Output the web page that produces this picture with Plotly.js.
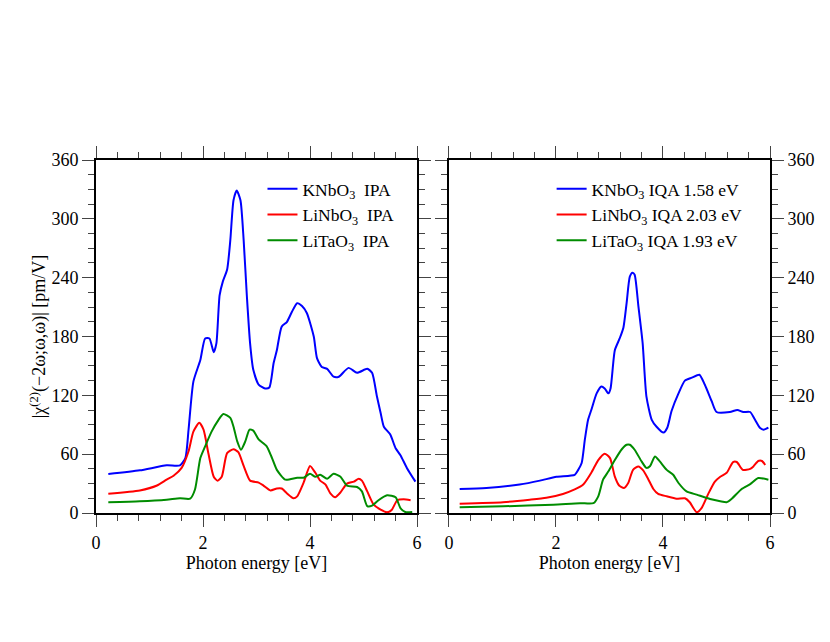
<!DOCTYPE html>
<html>
<head>
<meta charset="utf-8">
<script src="https://cdn.plot.ly/plotly-3.0.1.min.js"></script>
<style>
  body { margin: 0; background: #fff; }
  #chart { width: 830px; height: 642px; }
</style>
</head>
<body>
<div id="chart"></div>
<script>
// left panel: independent particle approximation (IPA)
const kn_ipa_x = [0.23, 0.82, 1.32, 1.57, 1.67, 1.73, 1.82, 1.95, 2.04, 2.12, 2.20, 2.25, 2.31, 2.37, 2.45, 2.51, 2.57, 2.63, 2.70, 2.76, 2.82, 2.88, 2.94, 3.04, 3.16, 3.24, 3.32, 3.38, 3.47, 3.57, 3.66, 3.76, 3.85, 3.94, 4.07, 4.13, 4.22, 4.32, 4.44, 4.54, 4.72, 4.88, 5.07, 5.16, 5.25, 5.32, 5.38, 5.50, 5.60, 5.69, 5.81, 5.97];
const kn_ipa_y = [39.7, 43.5, 48.6, 48.6, 56, 85, 134, 156, 178, 178, 164, 173, 222, 236, 248, 278, 319, 329, 319, 278, 221, 173, 146, 131, 127, 128, 153, 166, 190, 195, 205, 214, 211, 204, 180, 158, 149, 147, 139, 139, 148, 143, 147, 143, 119, 102, 88, 80, 66, 59, 46, 32];

const ln_ipa_x = [0.23, 0.82, 1.14, 1.32, 1.45, 1.60, 1.73, 1.82, 1.93, 2.01, 2.10, 2.20, 2.27, 2.35, 2.45, 2.57, 2.66, 2.76, 2.88, 3.04, 3.13, 3.26, 3.38, 3.47, 3.57, 3.69, 3.76, 3.88, 4.00, 4.10, 4.19, 4.29, 4.38, 4.47, 4.57, 4.69, 4.82, 4.91, 4.97, 5.07, 5.19, 5.32, 5.44, 5.53, 5.63, 5.75, 5.88];
const ln_ipa_y = [19.7, 23, 28, 34, 38, 46, 63, 83, 92, 85, 61, 37, 33, 37, 61, 65, 62, 48, 33, 31, 28, 23, 25, 25, 20, 15, 17, 31, 48, 41, 33, 29, 20, 16, 21, 30, 32, 35, 33, 22, 8.5, 3.4, 0.7, 3.4, 13, 14, 13];

const lt_ipa_x = [0.23, 0.82, 1.32, 1.57, 1.76, 1.85, 1.95, 2.04, 2.16, 2.29, 2.38, 2.51, 2.57, 2.64, 2.71, 2.79, 2.87, 2.94, 3.04, 3.19, 3.29, 3.38, 3.54, 3.76, 3.88, 4.00, 4.10, 4.19, 4.32, 4.44, 4.57, 4.69, 4.88, 4.97, 5.07, 5.16, 5.28, 5.44, 5.60, 5.69, 5.78, 5.91];
const lt_ipa_y = [11, 12, 13.6, 15, 14.6, 24, 56, 68, 83, 95, 101, 97, 88, 73, 64.5, 73, 85, 84, 75, 68, 56, 44, 34, 36, 36, 40, 37, 39, 35, 40, 37, 28, 26.5, 22, 7, 7.5, 13, 18, 16, 5, 1, 1];

// right panel: including quasiparticle / scissors shift (IQA)
const kn_iqa_x = [0.20, 0.70, 1.32, 1.70, 2.01, 2.35, 2.41, 2.48, 2.54, 2.60, 2.66, 2.76, 2.85, 2.91, 2.98, 3.02, 3.10, 3.19, 3.26, 3.32, 3.38, 3.43, 3.47, 3.54, 3.62, 3.69, 3.79, 3.88, 4.01, 4.08, 4.16, 4.29, 4.41, 4.54, 4.68, 4.78, 4.91, 5.00, 5.25, 5.39, 5.50, 5.63, 5.72, 5.81, 5.88, 5.97];
const kn_iqa_y = [24.5, 25.5, 29, 33, 37, 39, 43.5, 51, 75, 95, 105, 122, 129, 127, 122, 127, 166, 178, 189, 214, 241, 245, 243, 211, 173, 119, 95, 88, 82, 87, 104, 122, 135, 138, 141, 131, 114, 103, 103, 105, 103, 103, 95, 87, 85, 87];

const ln_iqa_x = [0.20, 1.01, 1.51, 1.82, 2.13, 2.35, 2.51, 2.66, 2.79, 2.91, 3.01, 3.10, 3.18, 3.27, 3.35, 3.44, 3.54, 3.63, 3.72, 3.82, 3.91, 4.07, 4.25, 4.41, 4.50, 4.63, 4.72, 4.85, 4.97, 5.07, 5.19, 5.31, 5.38, 5.49, 5.63, 5.69, 5.78, 5.85, 5.91];
const ln_iqa_y = [9.5, 11, 13.6, 15.6, 19.4, 24, 29, 41, 54, 60.5, 56, 37, 28, 25.5, 30.6, 44, 47.5, 43.5, 35, 24.5, 19.4, 17, 14.6, 15, 11, 0.7, 5, 20, 32, 37, 41, 52, 52, 44, 45, 47.5, 53, 53, 49];

const lt_iqa_x = [0.20, 1.01, 1.95, 2.45, 2.70, 2.79, 2.88, 2.98, 3.10, 3.23, 3.32, 3.38, 3.47, 3.60, 3.69, 3.76, 3.85, 3.94, 4.07, 4.19, 4.29, 4.44, 4.63, 4.88, 5.07, 5.19, 5.28, 5.47, 5.63, 5.78, 5.97];
const lt_iqa_y = [5.8, 6.8, 8.5, 10, 10, 17, 34, 42.5, 54, 65, 69.6, 69.6, 64.5, 52.6, 46, 48, 57.7, 52.6, 44, 39, 30.6, 22, 18.7, 14.3, 12, 11, 14.3, 24.5, 29.5, 35.7, 34];

const names_left = ["KNbO<sub>3</sub>\u00a0\u00a0IPA", "LiNbO<sub>3</sub>\u00a0\u00a0IPA", "LiTaO<sub>3</sub>\u00a0\u00a0IPA"];
const names_right = ["KNbO<sub>3</sub> IQA 1.58 eV", "LiNbO<sub>3</sub> IQA 2.03 eV", "LiTaO<sub>3</sub> IQA 1.93 eV"];
const colors = ["#0000ff", "#ff0000", "#008c00"];

const FONT = "Liberation Serif, Times New Roman, serif";

function line(x, y, name, color, right) {
    return {
        x: x, y: y, name: name, type: 'scatter', mode: 'lines',
        line: { color: color, width: 2, shape: 'spline', smoothing: 0.6 },
        xaxis: right ? 'x2' : 'x',
        yaxis: right ? 'y2' : 'y',
        legend: right ? 'legend2' : 'legend',
        hoverinfo: 'x+y'
    }
}

const data = [
    line(kn_ipa_x, kn_ipa_y, names_left[0], colors[0], false),
    line(ln_ipa_x, ln_ipa_y, names_left[1], colors[1], false),
    line(lt_ipa_x, lt_ipa_y, names_left[2], colors[2], false),
    line(kn_iqa_x, kn_iqa_y, names_right[0], colors[0], true),
    line(ln_iqa_x, ln_iqa_y, names_right[1], colors[1], true),
    line(lt_iqa_x, lt_iqa_y, names_right[2], colors[2], true)
];

function x_axis(domain, anchor) {
    return {
        domain: domain, anchor: anchor, range: [0, 6],
        dtick: 2, tick0: 0,
        ticks: 'outside', ticklen: 12, tickwidth: 1, tickcolor: '#444',
        minor: { dtick: 0.4, ticks: 'outside', ticklen: 6, tickwidth: 1, tickcolor: '#444' },
        showline: true, linewidth: 2, linecolor: '#000', mirror: 'ticks',
        showgrid: false, zeroline: false,
        tickfont: { family: FONT, size: 18, color: '#000' },
        title: { text: 'Photon energy [eV]', font: { family: FONT, size: 18, color: '#000' }, standoff: 1 }
    }
}

function y_axis(anchor, side) {
    return {
        anchor: anchor, side: side, range: [0, 360],
        dtick: 60, tick0: 0,
        ticks: 'outside', ticklen: 12, tickwidth: 1, tickcolor: '#444',
        minor: { dtick: 15, ticks: 'outside', ticklen: 6, tickwidth: 1, tickcolor: '#444' },
        showline: true, linewidth: 2, linecolor: '#000', mirror: 'ticks',
        showgrid: false, zeroline: false,
        tickfont: { family: FONT, size: 18, color: '#000' }
    }
}

const legend_style = {
    bgcolor: 'rgba(0,0,0,0)', borderwidth: 0,
    font: { family: FONT, size: 17.5, color: '#000' },
    xanchor: 'left', yanchor: 'top', y: 0.969,
    tracegroupgap: 0, itemwidth: 30
};

const layout = {
    width: 830, height: 642,
    margin: { l: 96, r: 60, t: 160, b: 129 },
    paper_bgcolor: '#fff', plot_bgcolor: '#fff',
    showlegend: true,
    font: { family: FONT, color: '#000' },
    xaxis: x_axis([0, 0.4763], 'y'),
    xaxis2: x_axis([0.5237, 1], 'y2'),
    yaxis: Object.assign(y_axis('x', 'left'), {
        title: { text: '|χ<sup>(2)</sup>(−2ω;ω,ω)| [pm/V]', font: { family: FONT, size: 18, color: '#000' }, standoff: 1 }
    }),
    yaxis2: y_axis('x2', 'right'),
    legend: Object.assign({ x: 0.247 }, legend_style),
    legend2: Object.assign({ x: 0.676 }, legend_style)
};

Plotly.newPlot('chart', data, layout, { staticPlot: true, responsive: false });
</script>
</body>
</html>
